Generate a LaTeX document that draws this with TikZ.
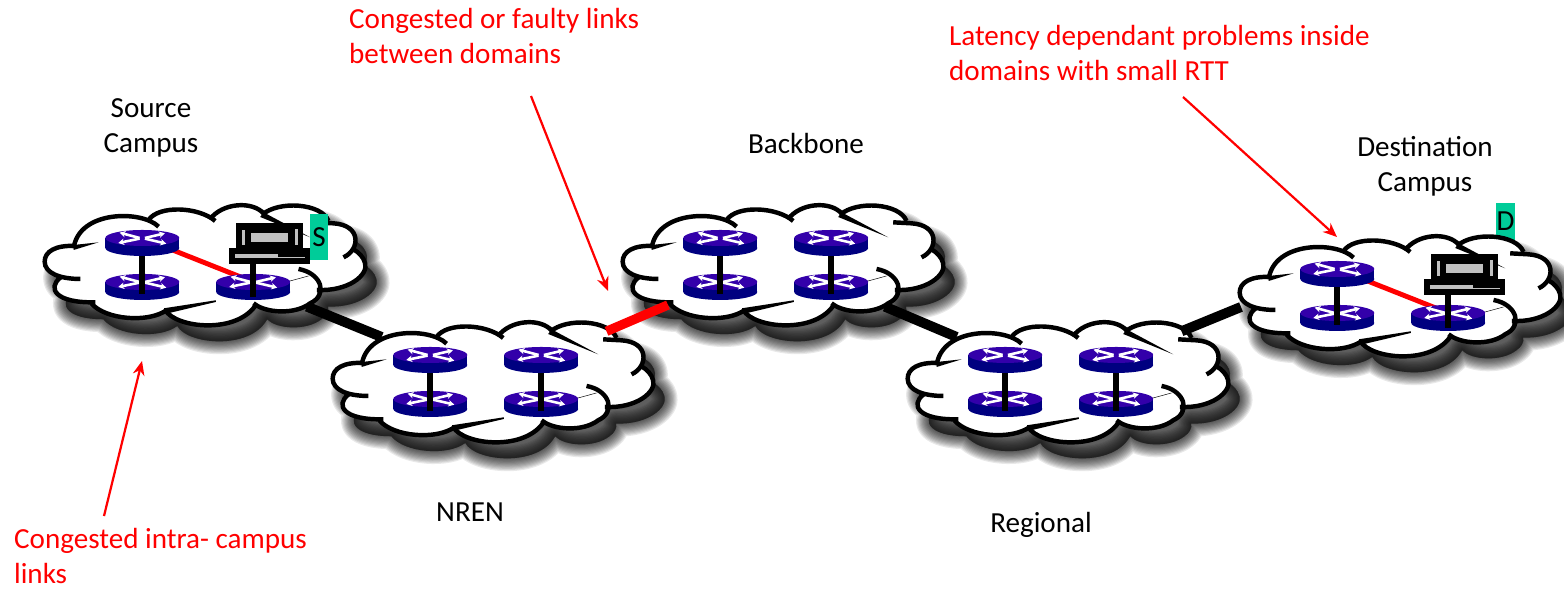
\documentclass[tikz,border=0pt]{standalone}
\usepackage{fontspec}
\setmainfont{Carlito}
\usetikzlibrary{arrows.meta}
\definecolor{routertop}{HTML}{3300AA}
\definecolor{routerside}{HTML}{000080}
\definecolor{tagteal}{HTML}{00CC99}
\definecolor{laptopgray}{HTML}{C0C0C0}
% closed outline of one cloud
\newcommand{\cloudoutline}{(130,153) .. controls (70,150) and (38,170) .. (38,200)
  .. controls (38,225) and (60,240) .. (85,248) .. controls (45,280) and (70,325) .. (180,325)
  .. controls (220,375) and (350,385) .. (402,345) .. controls (430,400) and (620,420) .. (672,325)
  .. controls (700,355) and (790,360) .. (835,325) .. controls (850,315) and (858,300) .. (855,287)
  .. controls (950,290) and (1010,240) .. (1000,205) .. controls (995,185) and (980,172) .. (965,163)
  .. controls (985,130) and (960,85) .. (890,78) .. controls (870,25) and (740,15) .. (695,57)
  .. controls (660,15) and (570,25) .. (540,72) .. controls (500,35) and (380,30) .. (350,72)
  .. controls (300,45) and (140,45) .. (130,153) -- cycle}
% shadow, white body and the loose strokes inside a cloud
\newcommand{\cloudbody}{
  \foreach \w in {22,20,18,16,14,12,10,8,6,4,2}
    \draw[shift={(34,48)}, black, fill=black, opacity=0.085, line width=\w pt, line join=round] \cloudoutline;
  \fill[white] \cloudoutline;
  \draw[cloudline] (130,153) .. controls (70,150) and (38,170) .. (38,200) .. controls (38,235) and (85,252) .. (145,252);
  \draw[cloudline] (85,248) .. controls (45,280) and (70,325) .. (190,322);
  \draw[cloudline] (178,325) .. controls (220,375) and (350,385) .. (405,345);
  \draw[cloudline] (400,345) .. controls (430,400) and (620,420) .. (675,325);
  \draw[cloudline] (665,325) .. controls (700,355) and (790,360) .. (835,325) .. controls (890,300) and (870,235) .. (800,222);
  \draw[cloudline] (855,285) .. controls (950,290) and (1010,240) .. (1000,205) .. controls (995,185) and (980,172) .. (965,163);
  \draw[cloudline] (935,187) .. controls (985,165) and (990,90) .. (905,85) -- (850,82);
  \draw[cloudline] (890,78) .. controls (870,25) and (740,15) .. (690,60);
  \draw[cloudline] (697,57) .. controls (660,15) and (570,25) .. (535,72);
  \draw[cloudline] (550,78) .. controls (500,35) and (380,30) .. (350,75);
  \draw[cloudline] (380,95) .. controls (330,45) and (140,45) .. (125,160);
  \fill (125,150) -- (200,142) -- (125,165) -- cycle;
  \fill (695,52) -- (835,127) -- (685,66) -- cycle;
  \fill (396,340) -- (552,316) -- (552,321) -- (404,356) -- cycle;
  \draw[thin] (775,258) -- (830,243);
  \coordinate (-outlow) at (825,335);
  \coordinate (-outup) at (860,58);
  \coordinate (-intop) at (185,75);
  \coordinate (-inlow) at (174,330);
  \coordinate (-inleft) at (42,243);
  \coordinate (-tl) at (331,129);
  \coordinate (-bl) at (331,261);
  \coordinate (-tr) at (664,129);
  \coordinate (-br) at (664,261);
}
\tikzset{
  cloudline/.style={line width=3.8pt},
  routerlink/.style={line width=4.8pt},
  domainlink/.style={line width=8.5pt},
  faultlink/.style={domainlink, red, line width=8pt},
  redarrow/.style={red, line width=1.9pt, -{Stealth[length=12pt,width=10pt]}},
  nettext/.style={font=\fontsize{24.85}{30.2}\selectfont, align=center},
  redtext/.style={nettext, red, align=left, anchor=west},
  tagbox/.style={fill=tagteal, minimum width=15.4pt, inner sep=0pt},
  router/.pic={
    \begin{scope}[x=0.01cm,y=-0.01cm]
    \fill[routerside] (0,30) ellipse [x radius=111,y radius=24];
    \fill[routerside] (-111,0) rectangle (111,30);
    \fill[routertop] (0,0) ellipse [x radius=111,y radius=24];
    \foreach \a/\b/\c/\d in {-8/0/-68/-16, 8/0/68/-14, -8/2/-72/15, 8/2/72/17}
      \draw[white, line width=2.2pt, -{Stealth[length=5pt,width=5.5pt]}] (\a,\b) -- (\c,\d);
    \end{scope}
  },
  domain/.pic={
    \begin{scope}[x=0.01cm,y=-0.01cm]
    \cloudbody
    \pic at (-bl) {router};
    \pic at (-br) {router};
    \draw[routerlink] (-tl) -- ++(0,168);
    \draw[routerlink] (-tr) -- ++(0,168);
    \pic at (-tl) {router};
    \pic at (-tr) {router};
    \end{scope}
  },
  campus/.pic={
    \begin{scope}[x=0.01cm,y=-0.01cm]
    \cloudbody
    \draw[red, line width=4.2pt] (-tl) -- (-br);
    \pic at (-bl) {router};
    \pic at (-br) {router};
    \draw[routerlink] (-tl) -- ++(0,168);
    \pic at (-tl) {router};
    \coordinate (-post) at (664,200);
    \draw[routerlink] (-post) -- ++(0,105);
    % laptop
    \fill (612,85) rectangle (814,163);
    \fill[laptopgray] (656,115) rectangle (769,140);
    \fill[laptopgray] (630,105) rectangle (639,150);
    \fill[laptopgray] (789,103) rectangle (797,150);
    \fill (591,160) rectangle (834,207);
    \fill[laptopgray] (608,178) rectangle (739,190);
    \fill[laptopgray] (739,185) rectangle (819,190);
    \end{scope}
  }
}
\begin{document}
\begin{tikzpicture}[x=0.03cm,y=-0.03cm]
\useasboundingbox (0,0) rectangle (1564,589);
% tag behind the destination cloud
\node[tagbox, minimum height=32pt] (dtag) at (1505.5,221.5) {};
% clouds
\pic (source) at (32,195) {campus};
\pic (nren) at (320,312) {domain};
\pic (backbone) at (610,195) {domain};
\pic (regional) at (895,312) {domain};
\pic (dest) at (1227,226) {campus};
% links between domains
\draw[domainlink] (source-outlow) -- (nren-intop);
\draw[faultlink] (nren-outup) -- (backbone-inlow);
\draw[domainlink] (backbone-outlow) -- (regional-intop);
\draw[domainlink] (regional-outup) -- (dest-inleft);
% tags
\node[tagbox, minimum height=39.3pt, nettext] (stag) at (319,237) {S};
\node[nettext] (dlabel) at (dtag.center) {D};
% domain names
\node[nettext] (sourcename) at (151,128) {Source\\Campus};
\node[nettext] (backbonename) at (806,143) {Backbone};
\node[nettext] (destname) at (1425,166) {Destination\\Campus};
\node[nettext] (nrenname) at (470,512) {NREN};
\node[nettext] (regionalname) at (1041,525) {Regional};
% problems
\node[redtext] (faulty) at (345,36) {Congested or faulty links\\between domains};
\node[redtext] (latency) at (945,53) {Latency dependant problems inside\\domains with small RTT};
\node[redtext] (intra) at (10,556) {Congested intra- campus\\links};
\coordinate (faultyfrom) at (531,96);
\coordinate (faultyto) at (608,291);
\coordinate (latencyfrom) at (1183,97);
\coordinate (latencyto) at (1337,237);
\coordinate (intrafrom) at (104,516);
\coordinate (intrato) at (142,361);
\draw[redarrow] (faultyfrom) -- (faultyto);
\draw[redarrow] (latencyfrom) -- (latencyto);
\draw[redarrow] (intrafrom) -- (intrato);
\end{tikzpicture}
\end{document}
